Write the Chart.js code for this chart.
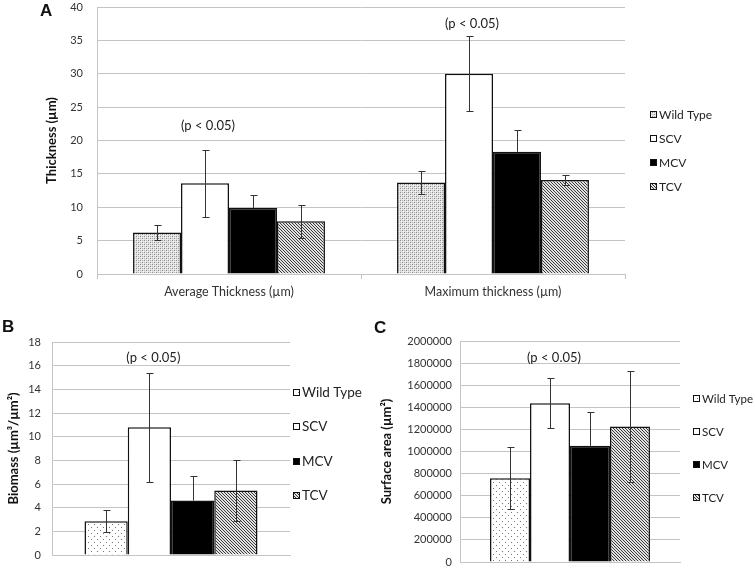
<!DOCTYPE html>
<html>
<head>
<meta charset="utf-8">
<script src="https://cdn.jsdelivr.net/npm/chart.js@4.4.1/dist/chart.umd.min.js"></script>
<style>
  body { margin: 0; background: #fff; }
  #wrap { position: relative; width: 755px; height: 568px; overflow: hidden; }
  canvas { position: absolute; }
  .panel { position: absolute; font: bold 17px "Liberation Sans", Arial, sans-serif; color: #111; line-height: 20px; }
</style>
</head>
<body>
<div id="wrap">
  <canvas id="chartA" width="755" height="305" style="left:0px;top:0px"></canvas>
  <canvas id="chartB" width="375" height="258" style="left:0px;top:310px"></canvas>
  <canvas id="chartC" width="380" height="258" style="left:375px;top:310px"></canvas>
  <div class="panel" style="left:40px;top:1px">A</div>
  <div class="panel" style="left:2px;top:317px">B</div>
  <div class="panel" style="left:374px;top:318px">C</div>
</div>
<script>
// series shared by the three panels
const seriesNames = ['Wild Type', 'SCV', 'MCV', 'TCV'];

// A - thickness (µm)
const thicknessGroups = ['Average Thickness (µm)', 'Maximum thickness (µm)'];
const thickWT = [6.2, 13.7];
const thickSCV = [13.6, 30.0];
const thickMCV = [9.9, 18.3];
const thickTCV = [7.9, 14.1];
const thickWTErr = [1.1, 1.7];
const thickSCVErr = [5.0, 5.6];
const thickMCVErr = [1.9, 3.25];
const thickTCVErr = [2.5, 0.8];
const thickPNote = [22.2, 37.5];

// B - biomass (µm3/µm2), one value per series
const biomass = [2.85, 10.8, 4.6, 5.45];
const biomassErr = [0.93, 4.6, 2.05, 2.6];
const biomassPNote = [16.65];

// C - surface area (µm2)
const surface = [757000, 1436000, 1051000, 1227000];
const surfaceErr = [280000, 225000, 307000, 506000];
const surfacePNote = [1852000];

const gridColor = '#c4c4c4';
const textColor = '#333';
const fontFam = 'Lato, "Open Sans", sans-serif';

function tile(size, paint) {
    const c = document.createElement('canvas');
    c.width = size; c.height = size;
    const g = c.getContext('2d');
    paint(g);
    return g.createPattern(c, 'repeat');
}
function px(g, x, y, col) { g.fillStyle = col; g.fillRect(x, y, 1, 1); }

// fine gray mesh (wild type in A)
const patMesh = tile(4, g => {
    g.fillStyle = '#e4e4e4'; g.fillRect(0, 0, 4, 4);
    px(g, 0, 0, '#8c8c8c'); px(g, 2, 2, '#8c8c8c');
    px(g, 2, 0, '#b4b4b4'); px(g, 0, 2, '#b4b4b4');
    px(g, 1, 1, '#f4f4f4'); px(g, 3, 3, '#f4f4f4');
});
// sparse dots (wild type in B and C)
const patDots = tile(6, g => {
    g.fillStyle = '#fff'; g.fillRect(0, 0, 6, 6);
    px(g, 1, 1, '#777'); px(g, 4, 4, '#777');
});
// dense diagonal stripes (TCV)
const patStripes = tile(3, g => {
    g.fillStyle = '#e2e2e2'; g.fillRect(0, 0, 3, 3);
    for (let i = 0; i < 3; i++) px(g, i, i, '#3a3a3a');
});

function errorBars() {
    return {
        id: 'errorBars',
        afterDatasetsDraw(chart) {
            const ctx = chart.ctx, y = chart.scales.y;
            ctx.save();
            ctx.strokeStyle = '#333';
            ctx.lineWidth = 1;
            chart.data.datasets.forEach((ds, di) => {
                const solid = ds.backgroundColor === '#000';
                chart.getDatasetMeta(di).data.forEach((bar, i) => {
                    const v = ds.data[i], e = ds.err[i];
                    const top = Math.round(y.getPixelForValue(v + e)) + 0.5;
                    const bot = Math.round(y.getPixelForValue(v - e)) + 0.5;
                    const x = Math.round(bar.x) + 0.5;
                    ctx.beginPath();
                    ctx.moveTo(x, top);
                    ctx.lineTo(x, solid ? bar.y : bot);
                    ctx.moveTo(x - 3, top); ctx.lineTo(x + 4, top);
                    if (!solid) { ctx.moveTo(x - 3, bot); ctx.lineTo(x + 4, bot); }
                    ctx.stroke();
                });
            });
            ctx.restore();
        }
    };
}

function pNotes(values, dx) {
    return {
        id: 'pNotes',
        afterDraw(chart) {
            const ctx = chart.ctx, y = chart.scales.y;
            const meta = chart.getDatasetMeta(1);
            ctx.save();
            ctx.font = '13px ' + fontFam;
            ctx.fillStyle = '#222';
            ctx.textAlign = 'center';
            ctx.textBaseline = 'middle';
            values.forEach((v, i) => {
                ctx.fillText('(p < 0.05)', meta.data[i].x + dx, y.getPixelForValue(v));
            });
            ctx.restore();
        }
    };
}

function sideLegend(x0, y0, gap, fontSize) {
    return {
        id: 'sideLegend',
        afterDraw(chart) {
            const ctx = chart.ctx, box = 7;
            ctx.save();
            ctx.font = fontSize + 'px ' + fontFam;
            ctx.textBaseline = 'middle';
            chart.data.datasets.forEach((ds, i) => {
                const cy = Math.round(y0 + i * gap);
                ctx.fillStyle = ds.backgroundColor;
                ctx.fillRect(x0, cy - 3, box, box);
                ctx.strokeStyle = '#111';
                ctx.lineWidth = 1;
                ctx.strokeRect(x0 + 0.5, cy - 2.5, box - 1, box - 1);
                ctx.fillStyle = '#222';
                ctx.fillText(ds.label, x0 + box + 2, cy + 1);
            });
            ctx.restore();
        }
    };
}

function makeDatasets(values, errs, fills) {
    return seriesNames.map((name, i) => ({
        label: name,
        data: values[i],
        err: errs[i],
        backgroundColor: fills[i],
        borderColor: '#111',
        borderWidth: 1.5,
        categoryPercentage: 0.727,
        barPercentage: 1
    }));
}

function yAxis(min, max, step, title, width, tickPad, titlePad, fmt) {
    return {
        min: min, max: max,
        ticks: { stepSize: step, padding: tickPad, color: textColor, font: { family: fontFam, size: 11 },
                 callback: fmt || (v => v) },
        grid: { color: gridColor, drawTicks: false },
        border: { color: gridColor },
        title: { display: true, text: title, color: '#111',
                 font: { family: fontFam, size: 13, weight: 'bold' }, padding: { top: titlePad, bottom: 0 } },
        // fixed width, and keep the tick padding from pushing the plot down
        afterFit: s => { s.width = width; s.paddingTop = 0; s.paddingBottom = 0; }
    };
}

const baseOpts = {
    responsive: false,
    animation: false,
    events: [],
};

new Chart(document.getElementById('chartA'), {
    type: 'bar',
    data: {
        labels: thicknessGroups,
        datasets: makeDatasets(
            [thickWT, thickSCV, thickMCV, thickTCV],
            [thickWTErr, thickSCVErr, thickMCVErr, thickTCVErr],
            [patMesh, '#fff', '#000', patStripes])
    },
    options: Object.assign({}, baseOpts, {
        layout: { padding: { top: 7, right: 130, bottom: 0, left: 0 } },
        plugins: { legend: { display: false }, tooltip: { enabled: false } },
        scales: {
            x: {
                grid: { drawOnChartArea: false, drawTicks: true, tickLength: 5, offset: true, color: gridColor },
                border: { color: gridColor },
                ticks: { padding: 5, color: textColor, font: { family: fontFam, size: 12.5 } },
                afterFit: s => { s.height = 31; }
            },
            y: yAxis(0, 40, 5, 'Thickness (µm)', 97, 14, 44)
        }
    }),
    plugins: [errorBars(), pNotes(thickPNote, 3), sideLegend(650, 114, 24, 12)]
});

function singleGroup(values) { return values.map(v => [v]); }

new Chart(document.getElementById('chartB'), {
    type: 'bar',
    data: {
        labels: [''],
        datasets: makeDatasets(singleGroup(biomass), singleGroup(biomassErr),
            [patDots, '#fff', '#000', patStripes])
    },
    options: Object.assign({}, baseOpts, {
        layout: { padding: { top: 32, right: 85, bottom: 0, left: 0 } },
        plugins: { legend: { display: false }, tooltip: { enabled: false } },
        scales: {
            x: {
                ticks: { display: false },
                grid: { drawOnChartArea: false, drawTicks: false },
                border: { color: gridColor },
                afterFit: s => { s.height = 13; }
            },
            y: yAxis(0, 18, 2, 'Biomass (µm³/µm²)', 52, 11, 6)
        }
    }),
    plugins: [errorBars(), pNotes(biomassPNote, 4), sideLegend(293, 82, 34.3, 13.5)]
});

new Chart(document.getElementById('chartC'), {
    type: 'bar',
    data: {
        labels: [''],
        datasets: makeDatasets(singleGroup(surface), singleGroup(surfaceErr),
            [patDots, '#fff', '#000', patStripes])
    },
    options: Object.assign({}, baseOpts, {
        layout: { padding: { top: 31, right: 75, bottom: 0, left: 0 } },
        plugins: { legend: { display: false }, tooltip: { enabled: false } },
        scales: {
            x: {
                ticks: { display: false },
                grid: { drawOnChartArea: false, drawTicks: false },
                border: { color: gridColor },
                afterFit: s => { s.height = 6; }
            },
            y: yAxis(0, 2000000, 200000, 'Surface area (µm²)', 85, 8, 4, v => String(v))
        }
    }),
    plugins: [errorBars(), pNotes(surfacePNote, 4), sideLegend(318, 88, 33, 11.5)]
});
</script>
</body>
</html>
